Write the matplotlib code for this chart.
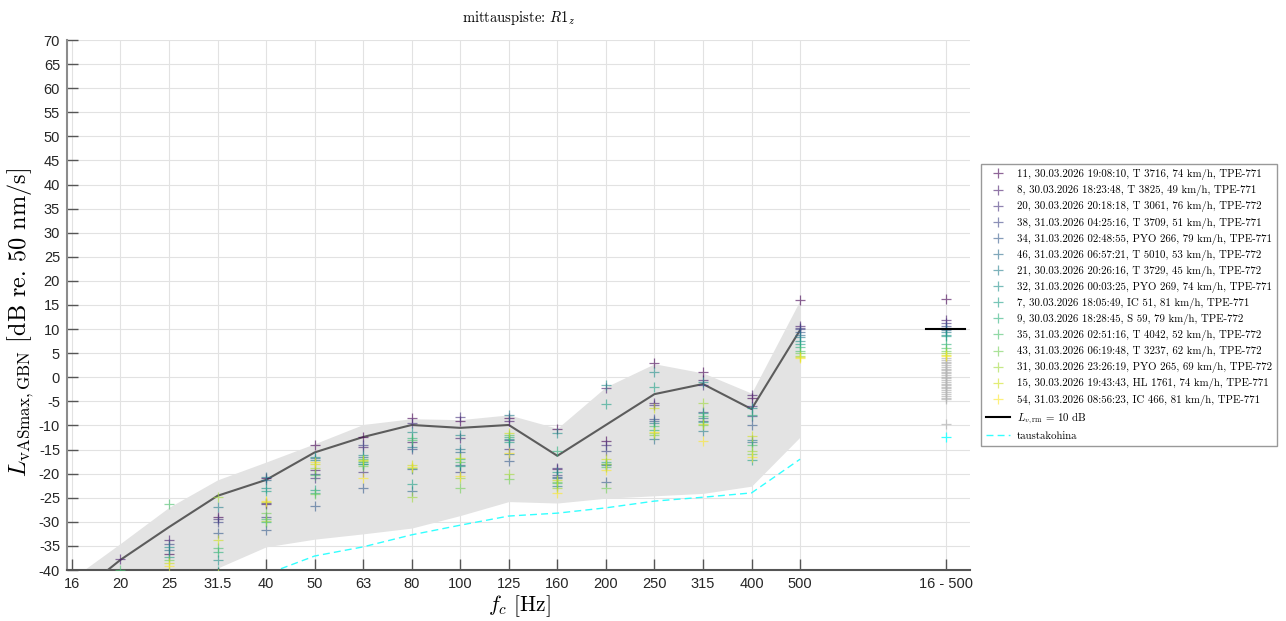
import numpy as np
import matplotlib.pyplot as plt

plt.rcParams['mathtext.fontset'] = 'cm'
plt.rcParams['axes.unicode_minus'] = False

# third-octave bands + total
bands = ['16', '20', '25', '31.5', '40', '50', '63', '80', '100', '125',
         '160', '200', '250', '315', '400', '500']
total_label = '16 - 500'

labels = [
    '11, 30.03.2026 19:08:10, T 3716, 74 km/h, TPE-771',
    '8, 30.03.2026 18:23:48, T 3825, 49 km/h, TPE-771',
    '20, 30.03.2026 20:18:18, T 3061, 76 km/h, TPE-772',
    '38, 31.03.2026 04:25:16, T 3709, 51 km/h, TPE-771',
    '34, 31.03.2026 02:48:55, PYO 266, 79 km/h, TPE-771',
    '46, 31.03.2026 06:57:21, T 5010, 53 km/h, TPE-772',
    '21, 30.03.2026 20:26:16, T 3729, 45 km/h, TPE-772',
    '32, 31.03.2026 00:03:25, PYO 269, 74 km/h, TPE-771',
    '7, 30.03.2026 18:05:49, IC 51, 81 km/h, TPE-771',
    '9, 30.03.2026 18:28:45, S 59, 79 km/h, TPE-772',
    '35, 31.03.2026 02:51:16, T 4042, 52 km/h, TPE-772',
    '43, 31.03.2026 06:19:48, T 3237, 62 km/h, TPE-772',
    '31, 30.03.2026 23:26:19, PYO 265, 69 km/h, TPE-772',
    '15, 30.03.2026 19:43:43, HL 1761, 74 km/h, TPE-771',
    '54, 31.03.2026 08:56:23, IC 466, 81 km/h, TPE-771',
]

# band levels per pass (dB), 16 ... 500 Hz
levels = [
    [-44.5, -41.0, -36.6, -28.9, -21.0, -14.1, -12.3, -8.5, -9.0, -8.5, -10.8, -13.2, 3.0, 1.1, -4.4, 16.0],
    [-46.0, -37.8, -33.8, -40.6, -26.2, -19.2, -14.5, -13.4, -12.5, -9.0, -19.0, -2.3, -5.4, -0.5, -3.7, 10.7],
    [-47.2, -42.3, -40.8, -29.5, -26.0, -21.0, -19.6, -9.5, -8.3, -14.8, -18.8, -14.0, -5.8, -1.6, -6.0, 10.3],
    [-45.3, -41.6, -34.5, -30.0, -29.0, -20.0, -14.1, -14.8, -19.6, -13.0, -20.2, -15.4, -8.7, -7.2, -8.0, 10.0],
    [-48.1, -43.0, -41.5, -32.4, -31.8, -26.7, -23.0, -19.1, -18.2, -17.3, -20.8, -21.7, -9.0, -9.0, -9.9, 9.3],
    [-46.7, -42.0, -35.9, -41.0, -21.3, -16.8, -16.5, -23.5, -15.5, -16.0, -21.0, -18.2, -12.9, -8.5, -13.5, 8.8],
    [-44.9, -40.8, -40.5, -27.0, -20.6, -17.2, -18.0, -14.4, -14.8, -7.8, -22.6, -17.9, -9.4, -11.1, -13.0, 8.4],
    [-45.8, -41.2, -35.2, -37.9, -23.0, -16.6, -16.1, -11.3, -12.0, -12.8, -11.6, -1.6, 1.0, -1.0, -6.4, 7.6],
    [-49.0, -43.5, -37.2, -40.3, -23.5, -23.3, -17.5, -22.2, -18.5, -13.4, -19.6, -5.6, -2.1, -7.5, -17.2, 7.0],
    [-47.5, -42.7, -41.2, -36.2, -30.0, -24.0, -17.9, -12.7, -17.0, -12.3, -15.3, -17.5, -11.0, -9.3, -7.8, 6.2],
    [-46.3, -39.9, -26.3, -35.5, -29.5, -20.3, -17.0, -13.0, -17.5, -12.0, -22.0, -18.6, -10.2, -8.1, -14.1, 5.5],
    [-48.6, -44.0, -37.9, -41.4, -28.2, -24.3, -18.5, -18.8, -23.0, -21.1, -21.7, -23.0, -12.0, -10.0, -15.9, 5.0],
    [-47.9, -42.9, -42.0, -24.9, -29.8, -18.9, -17.3, -24.8, -21.0, -20.1, -23.0, -18.0, -11.5, -5.4, -15.2, 4.5],
    [-49.4, -43.8, -38.5, -33.8, -25.9, -17.9, -17.2, -18.2, -16.8, -11.6, -21.3, -17.0, -6.4, -9.7, -12.2, 4.3],
    [-50.2, -44.6, -39.2, -40.9, -25.6, -17.5, -21.0, -18.6, -20.5, -15.7, -24.1, -19.2, -11.3, -13.2, -16.5, 3.9],
]
totals = [16.2, 11.9, 11.2, 10.6, 10.2, 9.8, 9.3, 8.8, 8.5, 6.9, 6.1, 5.5, 5.0, 4.6, 4.4]

# other passes, total only
other_totals = [3.9, 3.6, 3.2, 2.9, 2.5, 2.2, 1.8, 1.5, 1.1, 0.8, 0.4, 0.1, -0.2,
                -0.6, -0.9, -1.3, -1.6, -2.0, -2.3, -2.7, -3.0, -3.4, -3.8, -4.2,
                -4.6, -9.7]

mean_level = [-46.0, -37.9, -31.1, -24.6, -21.3, -15.6, -12.4, -9.9, -10.5, -9.9,
              -16.3, -9.9, -3.5, -1.4, -6.6, 9.8]
band_upper = [-41.8, -34.5, -27.0, -21.3, -17.6, -13.8, -9.8, -8.6, -8.8, -7.8,
              -10.6, -2.0, 2.8, 0.9, -3.3, 16.0]
band_lower = [-52.0, -48.0, -44.0, -39.6, -35.2, -33.6, -32.5, -31.3, -28.7, -25.8,
              -26.1, -25.1, -24.6, -24.1, -22.6, -12.4]
bg_noise = [-45.0, -44.0, -43.0, -42.0, -40.9, -37.1, -35.2, -32.7, -30.7, -28.8,
            -28.2, -27.1, -25.7, -24.9, -24.0, -17.0]
bg_total = -12.3
limit = 10

fig = plt.figure(figsize=(12.86, 6.21), dpi=100)
ax = fig.add_axes([67/1286, 51/621, 903/1286, 530/621])

x = np.arange(len(bands))
x_tot = 18

ax.fill_between(x, band_lower, band_upper, color='#e3e3e3', lw=0, zorder=1)
bg_line, = ax.plot(x, bg_noise, color='#33ffff', lw=1, dashes=(5, 3), zorder=2)
ax.plot(x, mean_level, color='#5c5c5c', lw=1.5, zorder=3)

ax.plot([x_tot] * len(other_totals), other_totals, '+', color='#b5b5b5',
        ms=7.5, mew=0.9, alpha=0.7, zorder=4)
ax.plot([x_tot], [bg_total], '+', color='#33ffff', ms=7.5, mew=0.9, zorder=4)

colors = plt.cm.viridis(np.linspace(0, 1, len(labels)))
handles = []
for i in range(len(labels)):
    h, = ax.plot(list(x) + [x_tot], levels[i] + [totals[i]], '+', color=colors[i],
                 ms=7.5, mew=0.9, alpha=0.6, zorder=5, label=labels[i])
    handles.append(h)

lim_line, = ax.plot([17.6, 18.4], [limit, limit], color='black', lw=1.5, zorder=6)

ax.set_xlim(-0.1, 18.5)
ax.set_ylim(-40, 70)
ax.set_xticks(list(x) + [x_tot])
ax.set_xticklabels(bands + [total_label])
ax.set_yticks(np.arange(-40, 71, 5))
ax.grid(True, color='#e2e2e2', lw=0.8)
ax.set_axisbelow(True)
ax.tick_params(direction='in', length=8, width=1, color='#555555',
               labelcolor='#262626', labelsize=10.5, pad=5)
for lab in ax.get_xticklabels() + ax.get_yticklabels():
    lab.set_fontfamily('Liberation Sans')
for s in ['top', 'right']:
    ax.spines[s].set_visible(False)
ax.spines['left'].set_color('#8c8c8c')
ax.spines['bottom'].set_color('#555555')
ax.spines['left'].set_linewidth(1.5)
ax.spines['bottom'].set_linewidth(1.5)

leg = ax.legend(handles + [lim_line, bg_line],
                labels + [r'$L_{v,\mathrm{rm}}$ = 10 dB', 'taustakohina'],
                loc='center left', bbox_to_anchor=(1.012, 0.5), borderaxespad=0,
                prop={'family': 'cmr10', 'size': 7.8}, fancybox=False,
                edgecolor='#999999', labelspacing=0.47, handlelength=2.2,
                handletextpad=0.6, borderpad=0.5, framealpha=1)

fig.text(519/1286, 1 - 18/621, r'mittauspiste: $R1_z$', family='cmr10',
         fontsize=10.5, ha='center', va='center')
fig.text(21/1286, 1 - 322/621, r'$L_{\mathrm{vASmax,GBN}}$ [dB re. 50 nm/s]',
         family='cmr10', fontsize=17.5, rotation=90, ha='center', va='center')
fig.text(519/1286, 1 - 606/621, r'$f_c$ [Hz]', family='cmr10', fontsize=15.5,
         ha='center', va='center')

fig.savefig('out.png', dpi=100)
